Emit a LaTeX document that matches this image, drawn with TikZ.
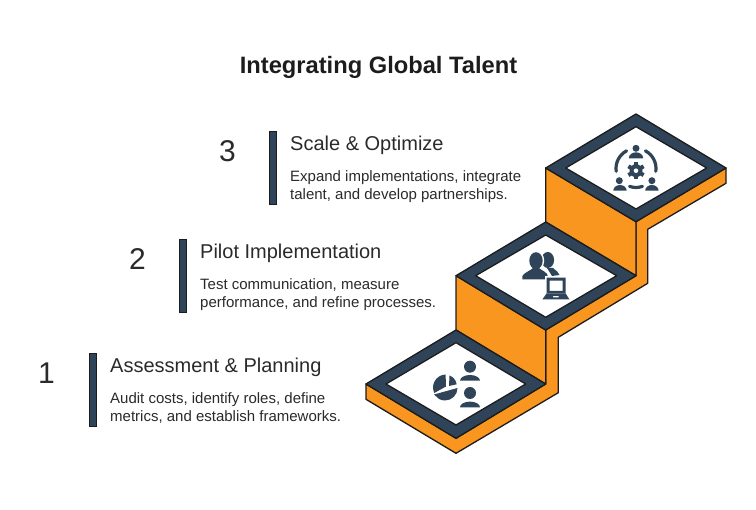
\documentclass[tikz,border=0pt]{standalone}
\usepackage{fontspec}
\setmainfont{Liberation Sans}
\definecolor{navy}{HTML}{2F4459}
\definecolor{stair}{HTML}{F99620}
\definecolor{ink}{HTML}{1C1C1C}
\definecolor{words}{HTML}{2A2A2A}
\begin{document}
\begin{tikzpicture}[x=1pt,y=1pt,
				stepnum/.style={anchor=base,inner sep=0pt,text=words,font=\fontsize{30}{30}\selectfont},
				stephead/.style={anchor=base west,inner sep=0pt,text=words,font=\fontsize{20}{22}\selectfont},
				stepbody/.style={anchor=north west,inner sep=0pt,align=left,text=words,font=\fontsize{15}{18}\selectfont},
				stepbar/.style={draw=ink,fill=navy,line width=1.2pt,minimum width=6.8pt,minimum height=73pt,inner sep=0pt},
				stairline/.style={draw=ink,line width=1.3pt,line join=round},
				icon/.style={fill=navy,draw=none},
				iconarc/.style={draw=navy,line width=3.2pt,line cap=round}]
\useasboundingbox (0,0) rectangle (756,-510);
\node[anchor=base,text=ink,font=\bfseries\fontsize{23.7}{28}\selectfont] (title) at (378.5,-74) {Integrating Global Talent};

% stairs
\draw[stairline,fill=stair] (366,-384) -- (366,-399.3) -- (456,-453.3) -- (558.3,-392.7) -- (558.3,-337.3)
	-- (647.7,-283.3) -- (647.7,-229.3) -- (726,-183.3) -- (726,-168) -- (636,-221.7) -- (636,-275.7)
	-- (545.7,-330) -- (545.7,-384) -- (456,-438.3) -- cycle;
\draw[stairline,fill=stair] (545.7,-168) -- (636,-221.7) -- (636,-275.7) -- (545.7,-222) -- cycle;
\draw[stairline,fill=stair] (456,-275.7) -- (545.7,-330) -- (545.7,-384) -- (456,-330) -- cycle;

% platforms
\draw[stairline,fill=navy] (636,-114) -- (726,-168) -- (636,-221.7) -- (545.7,-168) -- cycle;
\draw[stairline,fill=white] (636,-126.7) -- (706.7,-168) -- (636,-209) -- (565.7,-168) -- cycle;
\draw[stairline,fill=navy] (545.7,-222) -- (636,-275.7) -- (545.7,-330) -- (456,-275.7) -- cycle;
\draw[stairline,fill=white] (545.7,-235) -- (616.7,-275.7) -- (545.7,-317.3) -- (475.7,-275.7) -- cycle;
\draw[stairline,fill=navy] (456,-330) -- (545.7,-384) -- (456,-438.3) -- (366,-384) -- cycle;
\draw[stairline,fill=white] (456,-342.7) -- (525.7,-384) -- (456,-425) -- (386,-384) -- cycle;

% icon 1
\fill[icon] (446,-386.5) -- ++(92:12pt) arc (92:205:13pt) -- cycle;
\fill[icon] (449,-386) -- (449.5,-375.5) arc (70:8:11pt) -- cycle;
\fill[icon] (434,-394.5) -- (457.5,-388) arc (0:-118:12.5pt) -- cycle;
\fill[icon] (470,-366.7) circle (6pt);
\fill[icon] (460,-380.7) arc (180:0:10pt and 5.7pt) -- cycle;
\fill[icon] (470,-393) circle (6pt);
\fill[icon] (460,-407.3) arc (180:0:10pt and 5.7pt) -- cycle;

% icon 2
\fill[icon] (547.8,-260) ellipse (6.3pt and 8pt);
\fill[icon] (547,-268) -- (553,-268) .. controls (556,-271) and (559,-272) .. (559.5,-275) -- (552,-276) -- cycle;
\fill[white] (536,-260.7) ellipse (8.2pt and 10pt);
\fill[icon] (536,-260.7) ellipse (6.7pt and 8.5pt);
\fill[white] (520,-281) -- (520,-276) .. controls (526,-270) and (546,-268) .. (550,-276) -- (550,-281) -- cycle;
\fill[icon] (522.3,-279.5) -- (522.3,-276) .. controls (525,-272) and (530,-271) .. (533,-268) -- (539,-268)
	.. controls (542,-271) and (548,-272) .. (548,-277) -- (545,-279.5) -- cycle;
\fill[white] (544.5,-276) rectangle (569,-301);
\fill[icon,even odd rule] (546.7,-277.7) rectangle (565.5,-293.3) (549.7,-280.7) rectangle (562.5,-291);
\fill[icon,even odd rule] (546.7,-293.3) -- (565.5,-293.3) -- (569.5,-299.5) -- (542.3,-299.5) -- cycle
	(553,-296) rectangle (558.5,-297.5);

% icon 3
\fill[icon] (636,-148.3) circle (3.5pt);
\fill[icon] (628.8,-158.3) arc (180:0:7.2pt and 6pt) -- cycle;
\fill[icon] (619.3,-180.7) circle (3.5pt);
\fill[icon] (613.3,-190.7) arc (180:0:6.7pt and 5.7pt) -- cycle;
\fill[icon] (651.9,-180.7) circle (3.5pt);
\fill[icon] (645.2,-190.7) arc (180:0:6.7pt and 5.7pt) -- cycle;
\draw[iconarc] (636,-168.5) ++(118:20pt) arc (118:188:20pt);
\draw[iconarc] (636,-168.5) ++(62:20pt) arc (62:-8:20pt);
\draw[iconarc] (636,-168.5) ++(250:19pt) arc (250:290:19pt);
\foreach \ang in {30,90,150}
	\draw[navy,line width=4pt] (636,-170.7) ++(\ang:8.8pt) -- ++(\ang+180:17.6pt);
\fill[icon] (636,-170.7) circle (6.5pt);
\fill[white] (636,-170.7) circle (2.3pt);

% step 1
\node[stepbar] (bar1) at (93,-390) {};
\node[stepnum] (num1) at (46.5,-384) {1};
\node[stephead] (head1) at (110,-373) {Assessment \& Planning};
\node[stepbody] (body1) at (110,-392.5) {Audit costs, identify roles, define\\metrics, and establish frameworks.};

% step 2
\node[stepbar] (bar2) at (183,-276) {};
\node[stepnum] (num2) at (137.5,-270) {2};
\node[stephead] (head2) at (200,-259) {Pilot Implementation};
\node[stepbody] (body2) at (200,-278.5) {Test communication, measure\\performance, and refine processes.};

% step 3
\node[stepbar] (bar3) at (273,-168) {};
\node[stepnum] (num3) at (227.5,-162) {3};
\node[stephead] (head3) at (290,-151) {Scale \& Optimize};
\node[stepbody] (body3) at (290,-170.5) {Expand implementations, integrate\\talent, and develop partnerships.};
\end{tikzpicture}
\end{document}
